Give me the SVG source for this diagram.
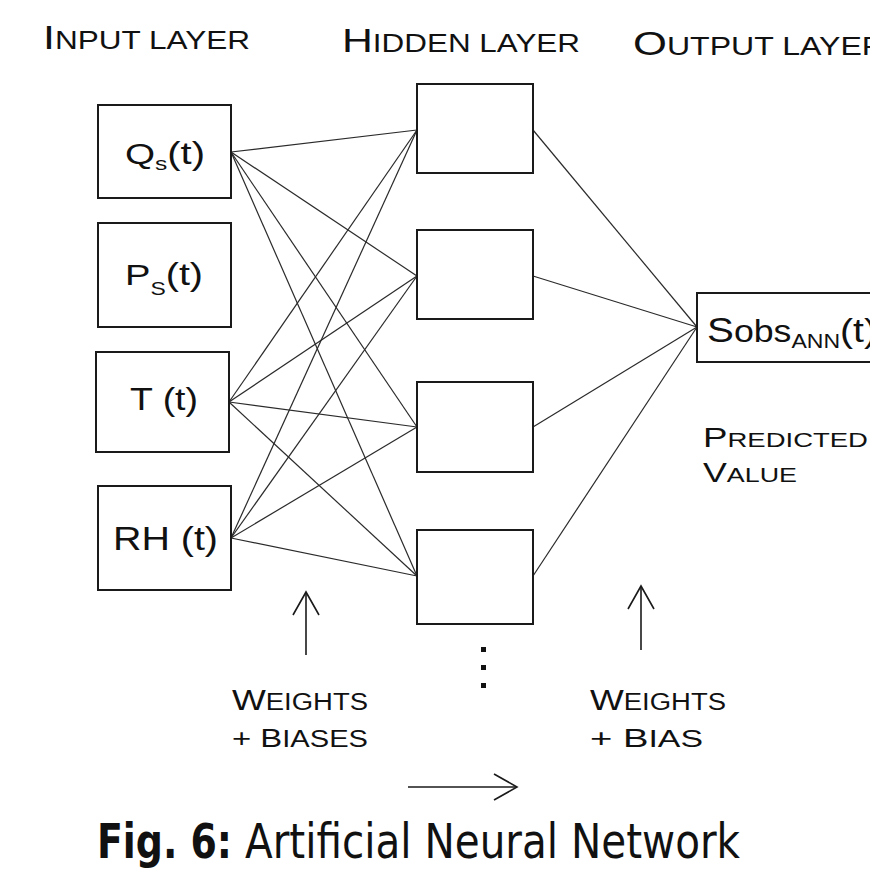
<svg xmlns="http://www.w3.org/2000/svg" width="870" height="873" viewBox="0 0 870 873">
<defs>
<style>
.box{fill:#fff;stroke:#1a1a1a;stroke-width:2}
.link{stroke:#2a2a2a;stroke-width:1.2;fill:none}
.arr{stroke:#1a1a1a;stroke-width:1.6;fill:none}
.t{font-family:"Liberation Sans",Arial,sans-serif;fill:#111}
.cap{font-family:"Liberation Sans",Arial,sans-serif;fill:#111}
.fig{font-family:"Liberation Sans Narrow","DejaVu Sans Condensed","Liberation Sans",sans-serif;fill:#111}
</style>
<marker id="open" markerUnits="userSpaceOnUse" markerWidth="40" markerHeight="40" viewBox="-30 -20 40 40" refX="0" refY="0" orient="auto">
<path d="M -23 -13 L 0 0 L -23 13" fill="none" stroke="#1a1a1a" stroke-width="1.6"/>
</marker>
</defs>
<rect width="870" height="873" fill="#fff"/>

<g id="layer-labels">
<text class="cap" x="43" y="49" textLength="207" lengthAdjust="spacingAndGlyphs"><tspan font-size="34">I</tspan><tspan font-size="25">NPUT LAYER</tspan></text>
<text class="cap" x="342" y="52" textLength="238" lengthAdjust="spacingAndGlyphs"><tspan font-size="34">H</tspan><tspan font-size="25">IDDEN LAYER</tspan></text>
<text class="cap" x="633" y="55" textLength="252" lengthAdjust="spacingAndGlyphs"><tspan font-size="34">O</tspan><tspan font-size="25">UTPUT LAYER</tspan></text>
</g>

<g id="connectors">
<line class="link" x1="231" y1="152" x2="417" y2="130"/>
<line class="link" x1="231" y1="152" x2="417" y2="276"/>
<line class="link" x1="231" y1="152" x2="417" y2="427"/>
<line class="link" x1="231" y1="152" x2="417" y2="576"/>
<line class="link" x1="229" y1="402" x2="417" y2="130"/>
<line class="link" x1="229" y1="402" x2="417" y2="276"/>
<line class="link" x1="229" y1="402" x2="417" y2="427"/>
<line class="link" x1="229" y1="402" x2="417" y2="576"/>
<line class="link" x1="231" y1="538" x2="417" y2="130"/>
<line class="link" x1="231" y1="538" x2="417" y2="276"/>
<line class="link" x1="231" y1="538" x2="417" y2="427"/>
<line class="link" x1="231" y1="538" x2="417" y2="576"/>
<line class="link" x1="533" y1="130" x2="697" y2="327"/>
<line class="link" x1="533" y1="276" x2="697" y2="327"/>
<line class="link" x1="533" y1="427" x2="697" y2="327"/>
<line class="link" x1="533" y1="576" x2="697" y2="327"/>
</g>

<g id="input-Q">
<rect class="box" x="98" y="105" width="133" height="93"/>
<text class="t" x="125" y="164" textLength="80" lengthAdjust="spacingAndGlyphs"><tspan font-size="30">Q</tspan><tspan font-size="19" dy="6">s</tspan><tspan font-size="31" dy="-6">(t)</tspan></text>
</g>
<g id="input-P">
<rect class="box" x="98" y="223" width="133" height="104"/>
<text class="t" x="125" y="285" textLength="78" lengthAdjust="spacingAndGlyphs"><tspan font-size="30">P</tspan><tspan font-size="18" dy="10">S</tspan><tspan font-size="31" dy="-10">(t)</tspan></text>
</g>
<g id="input-T">
<rect class="box" x="96" y="352" width="133" height="100"/>
<text class="t" x="130" y="410" font-size="32" textLength="68" lengthAdjust="spacingAndGlyphs">T (t)</text>
</g>
<g id="input-RH">
<rect class="box" x="98" y="486" width="133" height="104"/>
<text class="t" x="113" y="550" font-size="34" textLength="105" lengthAdjust="spacingAndGlyphs">RH (t)</text>
</g>

<g id="hidden-1"><rect class="box" x="417" y="84" width="116" height="89"/></g>
<g id="hidden-2"><rect class="box" x="417" y="230" width="116" height="89"/></g>
<g id="hidden-3"><rect class="box" x="417" y="382" width="116" height="90"/></g>
<g id="hidden-4"><rect class="box" x="417" y="530" width="116" height="94"/></g>

<g id="hidden-more">
<rect x="481" y="647" width="5" height="5" fill="#111"/>
<rect x="481" y="665" width="5" height="5" fill="#111"/>
<rect x="481" y="683" width="5" height="5" fill="#111"/>
</g>

<g id="output">
<rect class="box" x="697" y="293" width="190" height="69"/>
<text class="t" x="707" y="342" textLength="170" lengthAdjust="spacingAndGlyphs"><tspan font-size="35">S</tspan><tspan font-size="31">obs</tspan><tspan font-size="20" dy="6">ANN</tspan><tspan font-size="34" dy="-6">(t)</tspan></text>
</g>

<g id="predicted-label">
<text class="cap" x="703" y="447" textLength="165" lengthAdjust="spacingAndGlyphs"><tspan font-size="28">P</tspan><tspan font-size="21">REDICTED</tspan></text>
<text class="cap" x="703" y="482" textLength="94" lengthAdjust="spacingAndGlyphs"><tspan font-size="28">V</tspan><tspan font-size="21">ALUE</tspan></text>
</g>

<g id="arrows">
<line class="arr" x1="306" y1="655" x2="306" y2="592" marker-end="url(#open)"/>
<line class="arr" x1="641" y1="650" x2="641" y2="586" marker-end="url(#open)"/>
<line class="arr" x1="408" y1="787" x2="517" y2="787" marker-end="url(#open)"/>
</g>

<g id="weights-labels">
<text class="cap" x="232" y="710" textLength="136" lengthAdjust="spacingAndGlyphs"><tspan font-size="30">W</tspan><tspan font-size="23">EIGHTS</tspan></text>
<text class="cap" x="232" y="747" textLength="136" lengthAdjust="spacingAndGlyphs"><tspan font-size="26">+ B</tspan><tspan font-size="23">IASES</tspan></text>
<text class="cap" x="590" y="710" textLength="136" lengthAdjust="spacingAndGlyphs"><tspan font-size="30">W</tspan><tspan font-size="23">EIGHTS</tspan></text>
<text class="cap" x="590" y="747" textLength="113" lengthAdjust="spacingAndGlyphs"><tspan font-size="26">+ B</tspan><tspan font-size="23">IAS</tspan></text>
</g>

<g id="caption">
<text class="fig" x="97" y="858" font-size="48" font-weight="bold" textLength="135" lengthAdjust="spacingAndGlyphs">Fig. 6:</text>
<text class="fig" x="245" y="858" font-size="48" textLength="495" lengthAdjust="spacingAndGlyphs">Artificial Neural Network</text>
</g>
</svg>
